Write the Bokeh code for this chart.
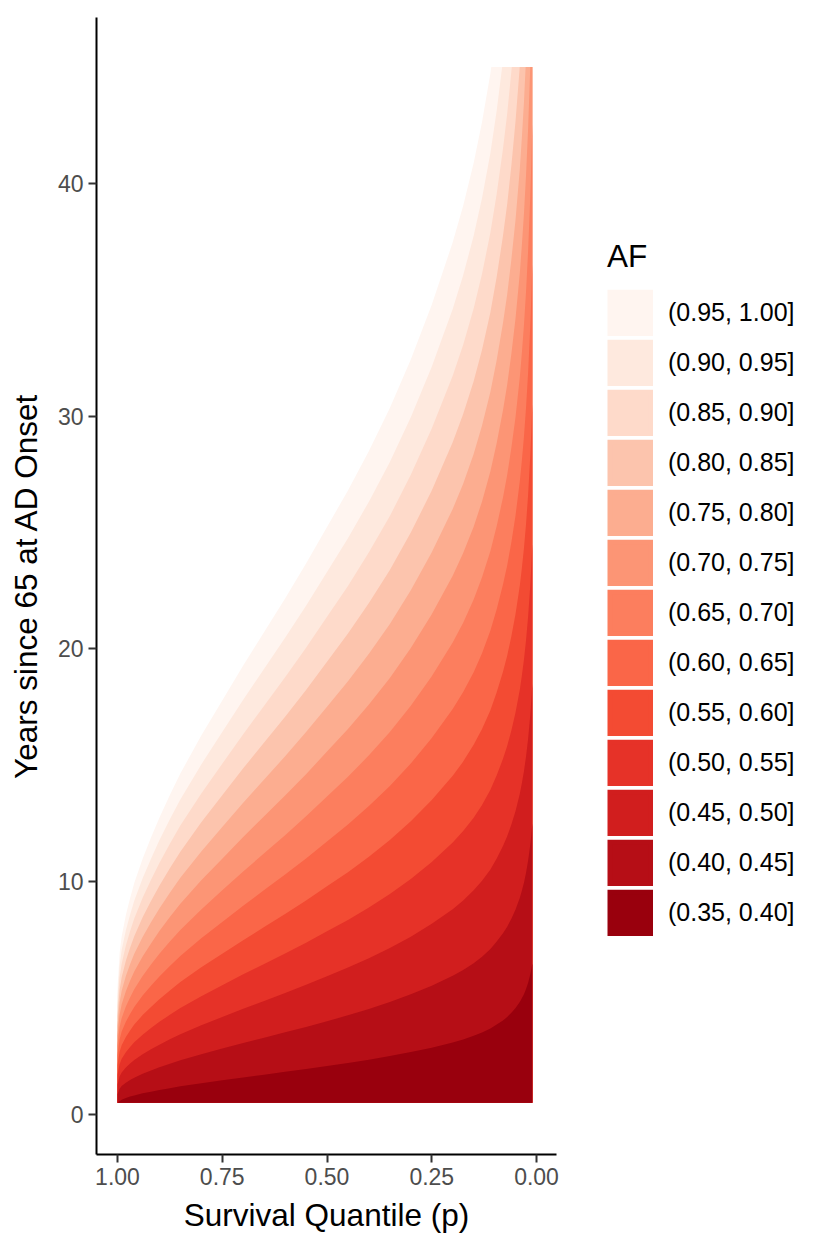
from bokeh.plotting import figure
from bokeh.models import Range1d, FixedTicker, NumeralTickFormatter, Legend, LegendItem
from bokeh.embed import file_html
from bokeh.resources import INLINE

# ---- data ----
# survival quantile grid (x axis, drawn reversed)
p_grid = [1.00, 0.995, 0.99, 0.98, 0.97, 0.96, 0.94, 0.92, 0.90, 0.875, 0.85, 0.80, 0.75, 0.70,
          0.65, 0.60, 0.55, 0.50, 0.45, 0.40, 0.35, 0.30, 0.25, 0.20, 0.175, 0.15, 0.13, 0.11,
          0.095, 0.08, 0.07, 0.06, 0.05, 0.04, 0.035, 0.03, 0.025, 0.02, 0.015, 0.0125, 0.01]

# extent of the data
y_bottom = 0.5
y_top = 45.0
p_right = 0.01

# upper boundary (years since 65) of each AF band along p_grid,
# truncated where the boundary leaves through the top of the data
y_040 = [0.45, 0.57, 0.63, 0.71, 0.77, 0.82, 0.91, 0.98, 1.05, 1.13, 1.21, 1.34, 1.47, 1.59,
         1.71, 1.83, 1.95, 2.08, 2.21, 2.35, 2.51, 2.68, 2.87, 3.09, 3.22, 3.38, 3.52, 3.69,
         3.86, 4.04, 4.19, 4.37, 4.57, 4.83, 4.99, 5.17, 5.39, 5.66, 6.01, 6.23, 6.49]
y_045 = [0.87, 1.10, 1.22, 1.36, 1.48, 1.58, 1.75, 1.89, 2.03, 2.18, 2.33, 2.59, 2.83, 3.07,
         3.30, 3.53, 3.76, 4.01, 4.26, 4.53, 4.83, 5.16, 5.53, 5.96, 6.21, 6.50, 6.78, 7.11,
         7.43, 7.79, 8.07, 8.41, 8.81, 9.30, 9.61, 9.96, 10.39, 10.91, 11.58, 12.00, 12.50]
y_050 = [1.29, 1.63, 1.80, 2.02, 2.19, 2.34, 2.59, 2.80, 3.00, 3.23, 3.45, 3.83, 4.19, 4.54,
         4.88, 5.22, 5.57, 5.94, 6.31, 6.71, 7.15, 7.64, 8.19, 8.82, 9.19, 9.63, 10.04, 10.53,
         11.00, 11.53, 11.95, 12.46, 13.04, 13.77, 14.23, 14.75, 15.38, 16.15, 17.14, 17.77, 18.51]
y_055 = [1.71, 2.16, 2.39, 2.67, 2.90, 3.10, 3.43, 3.71, 3.98, 4.28, 4.57, 5.08, 5.55, 6.02,
         6.47, 6.92, 7.38, 7.87, 8.36, 8.89, 9.47, 10.12, 10.85, 11.69, 12.18, 12.75, 13.30, 13.95,
         14.57, 15.28, 15.83, 16.50, 17.28, 18.24, 18.85, 19.54, 20.38, 21.40, 22.71, 23.54, 24.52]
y_060 = [2.13, 2.69, 2.97, 3.33, 3.61, 3.86, 4.27, 4.62, 4.95, 5.33, 5.69, 6.32, 6.91, 7.49,
         8.05, 8.61, 9.19, 9.80, 10.41, 11.07, 11.79, 12.60, 13.51, 14.55, 15.16, 15.88, 16.56, 17.37,
         18.14, 19.02, 19.71, 20.55, 21.51, 22.71, 23.47, 24.33, 25.37, 26.64, 28.27, 29.31, 30.53]
y_065 = [2.55, 3.22, 3.56, 3.98, 4.32, 4.62, 5.11, 5.53, 5.93, 6.38, 6.81, 7.57, 8.27, 8.97,
         9.64, 10.31, 11.00, 11.73, 12.46, 13.25, 14.11, 15.08, 16.17, 17.42, 18.15, 19.00, 19.82, 20.79,
         21.71, 22.77, 23.59, 24.59, 25.75, 27.18, 28.09, 29.12, 30.37, 31.89, 33.84, 35.08, 36.54]
y_070 = [2.97, 3.75, 4.14, 4.64, 5.03, 5.38, 5.95, 6.44, 6.90, 7.43, 7.93, 8.81, 9.63, 10.44,
         11.22, 12.00, 12.81, 13.66, 14.51, 15.43, 16.43, 17.56, 18.83, 20.28, 21.13, 22.13, 23.08, 24.21,
         25.28, 26.51, 27.47, 28.64, 29.98, 31.65, 32.71, 33.91, 35.36, 37.13, 39.40, 40.85, 42.55]
y_075 = [3.39, 4.28, 4.73, 5.29, 5.74, 6.14, 6.79, 7.35, 7.88, 8.48, 9.05, 10.06, 10.99, 11.92,
         12.81, 13.70, 14.62, 15.59, 16.56, 17.61, 18.75, 20.04, 21.49, 23.15, 24.12, 25.25, 26.34, 27.63,
         28.85, 30.26, 31.35, 32.68, 34.22, 36.12, 37.33, 38.70, 40.36, 42.38, 44.97]
y_080 = [3.81, 4.81, 5.31, 5.95, 6.45, 6.90, 7.63, 8.26, 8.85, 9.53, 10.17, 11.30, 12.35, 13.39,
         14.39, 15.39, 16.43, 17.52, 18.61, 19.79, 21.07, 22.52, 24.15, 26.01, 27.10, 28.38, 29.60, 31.05,
         32.42, 34.00, 35.23, 36.73, 38.45, 40.59, 41.95, 43.49]
y_085 = [4.23, 5.34, 5.90, 6.60, 7.16, 7.66, 8.47, 9.17, 9.83, 10.58, 11.29, 12.55, 13.71, 14.87,
         15.98, 17.09, 18.24, 19.45, 20.66, 21.97, 23.39, 25.00, 26.81, 28.88, 30.09, 31.50, 32.86, 34.47,
         35.99, 37.75, 39.11, 40.77, 42.69]
y_090 = [4.65, 5.87, 6.48, 7.26, 7.87, 8.42, 9.31, 10.08, 10.80, 11.63, 12.41, 13.79, 15.07, 16.34,
         17.56, 18.78, 20.05, 21.38, 22.71, 24.15, 25.71, 27.48, 29.47, 31.74, 33.07, 34.63, 36.12, 37.89,
         39.56, 41.49, 42.99, 44.82]
y_095 = [5.07, 6.40, 7.07, 7.91, 8.58, 9.18, 10.15, 10.99, 11.78, 12.68, 13.53, 15.04, 16.43, 17.82,
         19.15, 20.48, 21.86, 23.31, 24.76, 26.33, 28.03, 29.96, 32.13, 34.61, 36.06, 37.75, 39.38, 41.31,
         43.13]
y_100 = [5.49, 6.93, 7.65, 8.57, 9.29, 9.94, 10.99, 11.90, 12.75, 13.73, 14.65, 16.28, 17.79, 19.29,
         20.73, 22.17, 23.67, 25.24, 26.81, 28.51, 30.35, 32.44, 34.79, 37.47, 39.04, 40.88, 42.64, 44.73]

# p at which a boundary leaves through the top of the data (None = it reaches the right edge)
exit_100, exit_095, exit_090, exit_085, exit_080, exit_075 = 0.108, 0.082, 0.059, 0.040, 0.026, 0.0149

band_labels = ["(0.95, 1.00]", "(0.90, 0.95]", "(0.85, 0.90]", "(0.80, 0.85]", "(0.75, 0.80]",
               "(0.70, 0.75]", "(0.65, 0.70]", "(0.60, 0.65]", "(0.55, 0.60]", "(0.50, 0.55]",
               "(0.45, 0.50]", "(0.40, 0.45]", "(0.35, 0.40]"]
band_upper = [y_100, y_095, y_090, y_085, y_080, y_075, y_070, y_065, y_060, y_055, y_050, y_045, y_040]
band_exit = [exit_100, exit_095, exit_090, exit_085, exit_080, exit_075,
             None, None, None, None, None, None, None]
band_colors = ["#FFF5F0", "#FEE9DE", "#FEDACA", "#FCC4AD", "#FCAD90", "#FC9575", "#FC7E5E",
               "#FA6648", "#F34B33", "#E63228", "#D11E1E", "#B60E16", "#99000D"]

FONT = "Liberation Sans"
NAN = float("nan")

fig = figure(frame_width=460, frame_height=1137,
             x_range=Range1d(1.0501, -0.0477), y_range=Range1d(-1.72, 47.13),
             output_backend="svg", toolbar_location=None,
             min_border_left=96, min_border_right=254, min_border_top=17, min_border_bottom=84,
             background_fill_color="white", border_fill_color="white")
fig.outline_line_color = None
fig.grid.visible = False

items = []
for lab, col, ys, ex in zip(band_labels, band_colors, band_upper, band_exit):
    n = len(ys)
    xs_poly = [1.0] + p_grid[:n]
    ys_poly = [y_bottom] + [max(v, y_bottom) for v in ys]
    if ex is not None:
        xs_poly += [ex, p_right]
        ys_poly += [y_top, y_top]
    xs_poly += [p_right]
    ys_poly += [y_bottom]
    r = fig.patch(xs_poly, ys_poly, fill_color=col, line_color=None)
    # legend key only (draws nothing in the plot): a thick butt-capped line fills the whole key box
    key = fig.line(x=[NAN], y=[NAN], line_color=col, line_width=46.5, line_cap="butt")
    items.append(LegendItem(label=lab, renderers=[key, r]))

fig.xaxis.ticker = FixedTicker(ticks=[0.0, 0.25, 0.5, 0.75, 1.0])
fig.xaxis.formatter = NumeralTickFormatter(format="0.00")
fig.yaxis.ticker = FixedTicker(ticks=[0, 10, 20, 30, 40])
fig.xaxis.axis_label = "Survival Quantile (p)"
fig.yaxis.axis_label = "Years since 65 at AD Onset"
for ax in fig.axis:
    ax.axis_line_color = "black"
    ax.axis_line_width = 2
    ax.major_tick_line_color = "#333333"
    ax.major_tick_line_width = 2
    ax.major_tick_out = 8
    ax.major_tick_in = 0
    ax.minor_tick_line_color = None
    ax.major_label_text_font = FONT
    ax.major_label_text_font_size = "23px"
    ax.major_label_text_color = "#4D4D4D"
    ax.major_label_standoff = 5
    ax.axis_label_text_font = FONT
    ax.axis_label_text_font_size = "31.5px"
    ax.axis_label_text_font_style = "normal"
    ax.axis_label_text_color = "black"
fig.xaxis.axis_label_standoff = 9
fig.yaxis.axis_label_standoff = 11

legend = Legend(items=items, location=(51, 218), title="AF",
                title_text_font=FONT, title_text_font_size="31.5px", title_text_font_style="normal",
                title_text_color="black", title_standoff=14,
                label_text_font=FONT, label_text_font_size="25px", label_text_color="black",
                label_standoff=15, glyph_width=46, glyph_height=47, spacing=3,
                padding=0, margin=0, border_line_color=None, background_fill_alpha=0)
fig.add_layout(legend, "right")

open("out.html", "w").write(file_html(fig, INLINE))
